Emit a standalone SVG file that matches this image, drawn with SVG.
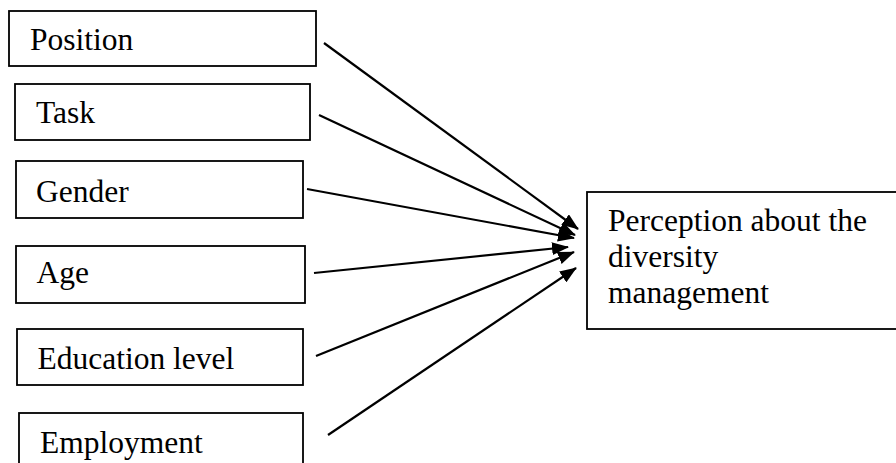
<svg xmlns="http://www.w3.org/2000/svg" width="896" height="463" viewBox="0 0 896 463">
<style>
.box{fill:#fff;stroke:#000;stroke-width:1.8}
.lbl{font-family:"Liberation Serif","Times New Roman",serif;font-size:31.5px;fill:#000}
.conn{stroke:#000;stroke-width:2.2;fill:none;marker-end:url(#ah)}
</style>
<defs>
<marker id="ah" viewBox="0 0 17 13" refX="16" refY="6.5" markerWidth="17" markerHeight="13" markerUnits="userSpaceOnUse" orient="auto">
<path d="M0,0 L17,6.5 L0,13 z" fill="#000"/>
</marker>
</defs>
<rect width="896" height="463" fill="#fff"/>
<g id="position"><rect class="box" x="9" y="11" width="307" height="55"/><text class="lbl" x="30" y="50">Position</text></g>
<g id="task"><rect class="box" x="15" y="84" width="295" height="56"/><text class="lbl" x="36" y="123">Task</text></g>
<g id="gender"><rect class="box" x="16" y="161" width="287" height="57"/><text class="lbl" x="36" y="202">Gender</text></g>
<g id="age"><rect class="box" x="16" y="246" width="289" height="57"/><text class="lbl" x="36.5" y="283">Age</text></g>
<g id="education"><rect class="box" x="17" y="329" width="286" height="56"/><text class="lbl" x="37.5" y="369">Education level</text></g>
<g id="employment"><rect class="box" x="19" y="413" width="284" height="60"/><text class="lbl" x="40" y="453">Employment</text></g>
<g id="perception"><rect class="box" x="587" y="192" width="320" height="137"/><text class="lbl" x="608" y="231">Perception about the</text><text class="lbl" x="608" y="267">diversity</text><text class="lbl" x="608" y="303">management</text></g>
<g id="connectors">
<line class="conn" x1="324" y1="43" x2="578" y2="229"/>
<line class="conn" x1="319" y1="115" x2="575" y2="235"/>
<line class="conn" x1="307" y1="189" x2="574" y2="238"/>
<line class="conn" x1="314" y1="273" x2="568" y2="247"/>
<line class="conn" x1="316" y1="356" x2="574" y2="252"/>
<line class="conn" x1="328" y1="435" x2="576" y2="268"/>
</g>
</svg>
